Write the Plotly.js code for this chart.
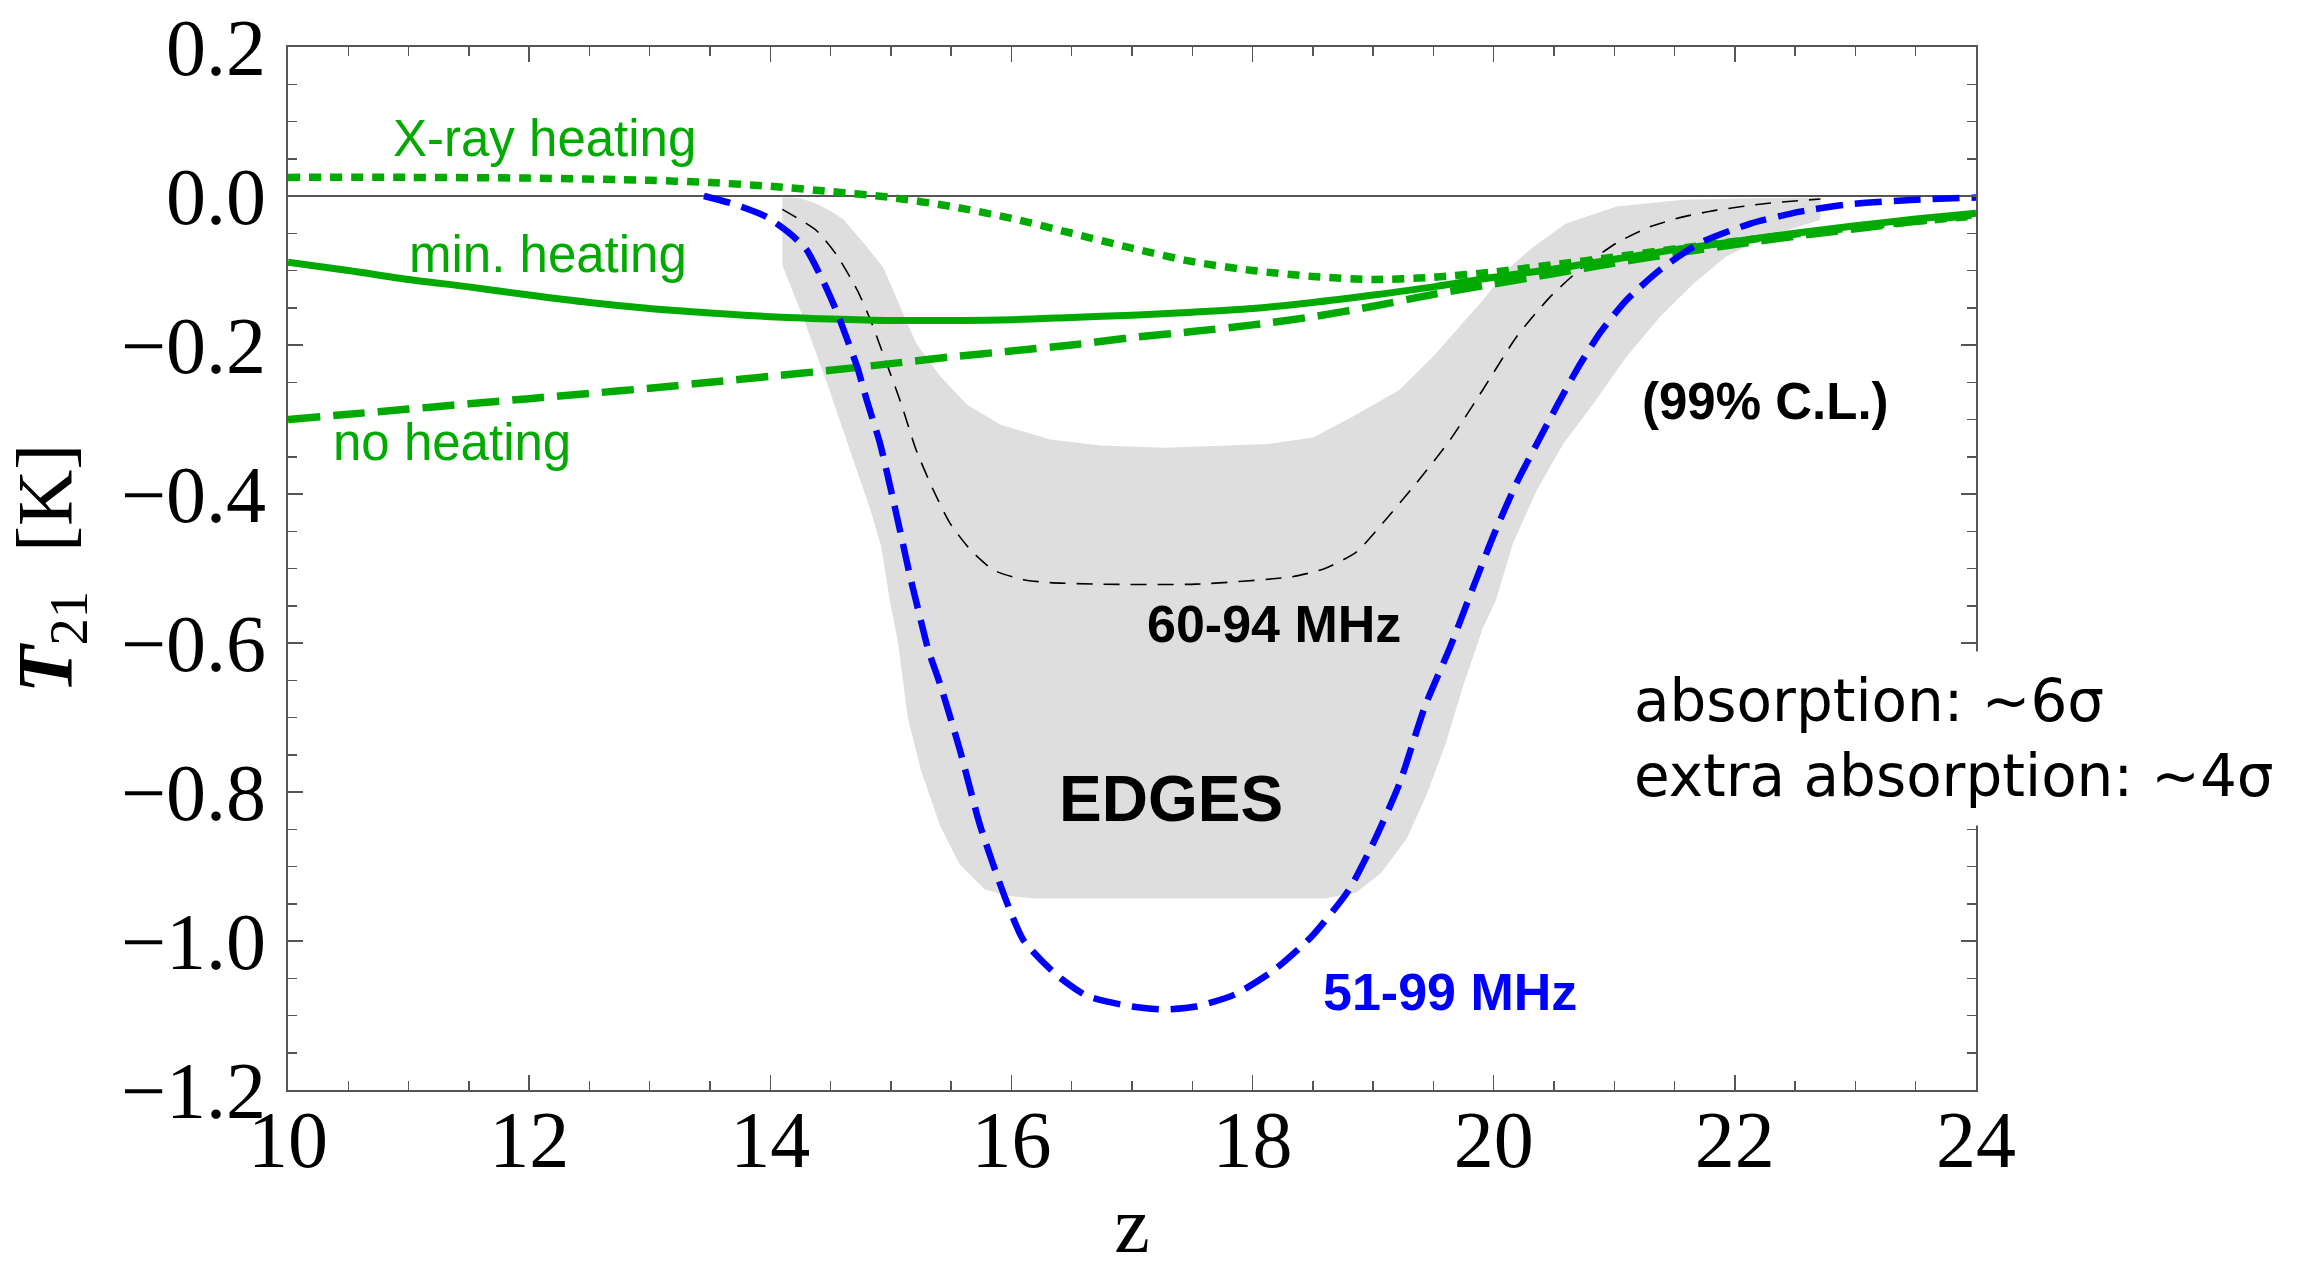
<!DOCTYPE html>
<html>
<head>
<meta charset="utf-8">
<script src="https://cdn.plot.ly/plotly-3.0.1.min.js"></script>
<style>
  html, body { margin: 0; padding: 0; background: #ffffff; }
  #chart { width: 2307px; height: 1269px; }
</style>
</head>
<body>
<div id="chart"></div>
<script>
// ---------------- data ----------------
// X-ray heating (green dotted)
const zXray = [10, 11, 12, 13, 13.5, 14, 14.5, 15, 15.5, 16, 16.5, 17, 17.5, 18, 18.5, 19, 19.5, 20, 20.5, 21, 21.5, 22, 22.5, 23, 23.5, 24];
const tXray = [0.025, 0.025, 0.024, 0.021, 0.018, 0.013, 0.006, -0.002, -0.014, -0.03, -0.05, -0.07, -0.088, -0.1, -0.108, -0.112, -0.109, -0.102, -0.092, -0.082, -0.071, -0.061, -0.051, -0.042, -0.034, -0.027];

// min. heating (green solid)
const zMin = [10, 10.5, 11, 11.5, 12, 12.5, 13, 13.5, 14, 14.5, 15, 15.5, 16, 16.5, 17, 17.5, 18, 18.5, 19, 19.5, 20, 20.5, 21, 21.5, 22, 22.5, 23, 23.5, 24];
const tMin = [-0.089, -0.1, -0.112, -0.122, -0.133, -0.143, -0.151, -0.157, -0.162, -0.165, -0.167, -0.167, -0.166, -0.163, -0.16, -0.156, -0.151, -0.143, -0.133, -0.122, -0.109, -0.098, -0.085, -0.072, -0.061, -0.05, -0.04, -0.031, -0.023];

// no heating (green dashed)
const zNo = [10, 10.5, 11, 11.5, 12, 12.5, 13, 13.5, 14, 14.5, 15, 15.5, 16, 16.5, 17, 17.5, 18, 18.5, 19, 19.5, 20, 20.5, 21, 21.5, 22, 22.5, 23, 23.5, 24];
const tNo = [-0.3, -0.293, -0.286, -0.279, -0.272, -0.265, -0.258, -0.25, -0.242, -0.234, -0.225, -0.216, -0.208, -0.2, -0.19, -0.182, -0.173, -0.162, -0.148, -0.132, -0.118, -0.104, -0.09, -0.077, -0.065, -0.054, -0.044, -0.034, -0.025];

// EDGES 51-99 MHz best fit (blue dashed)
const zBlue = [13.45, 13.7, 13.97, 14.16, 14.3, 14.44, 14.55, 14.63, 14.72, 14.8, 14.91, 15.0, 15.08, 15.16, 15.24, 15.31, 15.41, 15.57, 15.74, 15.95, 16.1, 16.37, 16.63, 17.0, 17.27, 17.53, 17.85, 18.17, 18.49, 18.8, 19.02, 19.22, 19.43, 19.64, 19.83, 20.0, 20.19, 20.36, 20.52, 20.69, 20.88, 21.1, 21.38, 21.71, 22.13, 22.54, 22.95, 23.5, 24];
const tBlue = [0, -0.011, -0.028, -0.05, -0.072, -0.115, -0.155, -0.189, -0.229, -0.274, -0.332, -0.394, -0.452, -0.511, -0.564, -0.609, -0.656, -0.742, -0.845, -0.943, -0.999, -1.045, -1.074, -1.088, -1.092, -1.088, -1.072, -1.04, -0.994, -0.931, -0.862, -0.788, -0.685, -0.605, -0.525, -0.455, -0.385, -0.332, -0.283, -0.233, -0.184, -0.14, -0.099, -0.063, -0.037, -0.021, -0.011, -0.005, -0.002];

// EDGES 60-94 MHz (thin black dashed)
const zBlack = [14.1, 14.38, 14.55, 14.72, 14.83, 14.94, 15.08, 15.21, 15.35, 15.49, 15.66, 15.85, 16.1, 16.32, 16.74, 17.53, 18.33, 18.6, 18.86, 19.08, 19.36, 19.64, 19.91, 20.19, 20.47, 20.74, 21.02, 21.3, 21.57, 21.85, 22.26, 22.71];
const tBlack = [-0.018, -0.046, -0.079, -0.126, -0.166, -0.214, -0.276, -0.341, -0.394, -0.439, -0.475, -0.502, -0.515, -0.519, -0.521, -0.521, -0.511, -0.5, -0.478, -0.439, -0.385, -0.327, -0.26, -0.189, -0.135, -0.095, -0.063, -0.041, -0.028, -0.019, -0.01, -0.004];

// EDGES 99% C.L. region (grey band): upper edge left->right, lower edge right->left
const bandUpperZ = [14.1, 14.25, 14.38, 14.5, 14.61, 14.8, 14.94, 15.08, 15.21, 15.41, 15.63, 15.91, 16.32, 16.74, 17.27, 17.8, 18.12, 18.5, 18.81, 19.22, 19.5, 19.75, 19.91, 20.11, 20.33, 20.6, 21.02, 21.57, 22.13, 22.71];
const bandUpperT = [-0.001, -0.003, -0.01, -0.02, -0.032, -0.068, -0.097, -0.15, -0.198, -0.242, -0.28, -0.307, -0.327, -0.335, -0.338, -0.335, -0.333, -0.324, -0.298, -0.26, -0.215, -0.169, -0.14, -0.099, -0.068, -0.037, -0.014, -0.005, -0.003, -0.002];
const bandLowerZ = [22.71, 22.26, 21.93, 21.66, 21.38, 21.1, 20.83, 20.58, 20.36, 20.16, 20.02, 19.91, 19.75, 19.6, 19.44, 19.28, 19.07, 18.86, 18.6, 16.2, 15.99, 15.78, 15.57, 15.41, 15.25, 15.14, 15.06, 14.99, 14.92, 14.83, 14.66, 14.47, 14.27, 14.1, 14.1];
const bandLowerT = [-0.032, -0.055, -0.081, -0.117, -0.162, -0.216, -0.278, -0.332, -0.394, -0.466, -0.542, -0.58, -0.656, -0.736, -0.805, -0.862, -0.908, -0.935, -0.943, -0.943, -0.94, -0.931, -0.897, -0.846, -0.771, -0.7, -0.6, -0.542, -0.47, -0.421, -0.341, -0.251, -0.162, -0.093, -0.001];

// axis ticks
const xTickVals = [10, 12, 14, 16, 18, 20, 22, 24];
const yTickVals = [-1.2, -1.0, -0.8, -0.6, -0.4, -0.2, 0.0, 0.2];

// ---------------- styling ----------------
const GREEN = '#00aa00';
const BLUE = '#0000ff';
const SERIF = 'Liberation Serif, Times New Roman, serif';
const SANS = 'Liberation Sans, Arial, Helvetica, sans-serif';
const WIDE = 'DejaVu Sans, Verdana, sans-serif';

const traces = [
  {
    x: bandUpperZ.concat(bandLowerZ),
    y: bandUpperT.concat(bandLowerT),
    mode: 'lines', fill: 'toself', fillcolor: '#dedede',
    line: { width: 0, color: '#dedede' }, hoverinfo: 'skip', name: 'EDGES 99% C.L.'
  },
  {
    x: zBlack, y: tBlack, mode: 'lines', name: '60-94 MHz',
    line: { color: '#000000', width: 1.6, dash: '16px,11px', shape: 'spline', smoothing: 0.6 }
  },
  {
    x: zXray, y: tXray, mode: 'lines', name: 'X-ray heating',
    line: { color: GREEN, width: 7.5, dash: '12px,9px', shape: 'spline', smoothing: 0.8 }
  },
  {
    x: zMin, y: tMin, mode: 'lines', name: 'min. heating',
    line: { color: GREEN, width: 7, shape: 'spline', smoothing: 0.8 }
  },
  {
    x: zNo, y: tNo, mode: 'lines', name: 'no heating',
    line: { color: GREEN, width: 7.5, dash: '32px,13px', shape: 'spline', smoothing: 0.8 }
  },
  {
    x: zBlue, y: tBlue, mode: 'lines', name: '51-99 MHz',
    line: { color: BLUE, width: 6.5, dash: '27px,12px', shape: 'spline', smoothing: 0.6 }
  }
];

const axisCommon = {
  showline: true, linecolor: '#555555', linewidth: 2,
  mirror: 'ticks', ticks: 'inside', tickcolor: '#555555', tickwidth: 1.5,
  showgrid: false, zeroline: false,
  tickfont: { family: SERIF, size: 80, color: '#000000' }
};

const layout = {
  width: 2307, height: 1269,
  margin: { l: 288, r: 331, t: 47, b: 179, pad: 0 },
  paper_bgcolor: '#ffffff', plot_bgcolor: '#ffffff',
  showlegend: false,
  xaxis: Object.assign({}, axisCommon, {
    range: [10, 24], tickvals: xTickVals, ticktext: xTickVals.map(String),
    ticklen: 15, ticklabelstandoff: -21,
    minor: { dtick: 0.5, tick0: 10, ticks: 'inside', ticklen: 9, tickcolor: '#555555', tickwidth: 1.5 },
    title: { text: 'z', font: { family: SERIF, size: 80, color: '#000000' }, standoff: 130 },
    automargin: false
  }),
  yaxis: Object.assign({}, axisCommon, {
    range: [-1.2, 0.2], tickvals: yTickVals, tickformat: '.1f',
    ticklen: 15, ticklabelstandoff: 4,
    minor: { dtick: 0.05, tick0: 0, ticks: 'inside', ticklen: 9, tickcolor: '#555555', tickwidth: 1.5 },
    zeroline: true, zerolinecolor: '#555555', zerolinewidth: 1.5,
    title: { text: '<b><i>T</i></b><sub>21</sub>  [K]', font: { family: SERIF, size: 78, color: '#000000' }, standoff: 24 },
    automargin: false
  }),
  annotations: [
    { x: 12.13, y: 0.077, text: 'X-ray heating', showarrow: false, xanchor: 'center', yanchor: 'middle',
      font: { family: SANS, size: 51, color: GREEN } },
    { x: 12.16, y: -0.078, text: 'min. heating', showarrow: false, xanchor: 'center', yanchor: 'middle',
      font: { family: SANS, size: 51, color: GREEN } },
    { x: 11.36, y: -0.331, text: 'no heating', showarrow: false, xanchor: 'center', yanchor: 'middle',
      font: { family: SANS, size: 51, color: GREEN } },
    { x: 22.25, y: -0.276, text: '<b>(99% C.L.)</b>', showarrow: false, xanchor: 'center', yanchor: 'middle',
      font: { family: SANS, size: 51, color: '#000000' } },
    { x: 18.18, y: -0.575, text: '<b>60-94 MHz</b>', showarrow: false, xanchor: 'center', yanchor: 'middle',
      font: { family: SANS, size: 52, color: '#000000' } },
    { x: 17.32, y: -0.81, text: '<b>EDGES</b>', showarrow: false, xanchor: 'center', yanchor: 'middle',
      font: { family: SANS, size: 64, color: '#000000' } },
    { x: 19.64, y: -1.068, text: '<b>51-99 MHz</b>', showarrow: false, xanchor: 'center', yanchor: 'middle',
      font: { family: SANS, size: 52, color: BLUE } },
    { x: 21.03, y: -0.728, text: 'absorption: ~6σ<br>extra absorption: ~4σ', showarrow: false,
      xanchor: 'left', yanchor: 'middle', align: 'left', bgcolor: '#ffffff', borderpad: 15,
      font: { family: WIDE, size: 58, color: '#000000' } }
  ]
};

Plotly.newPlot('chart', traces, layout, { displayModeBar: false, staticPlot: true });
</script>
</body>
</html>
